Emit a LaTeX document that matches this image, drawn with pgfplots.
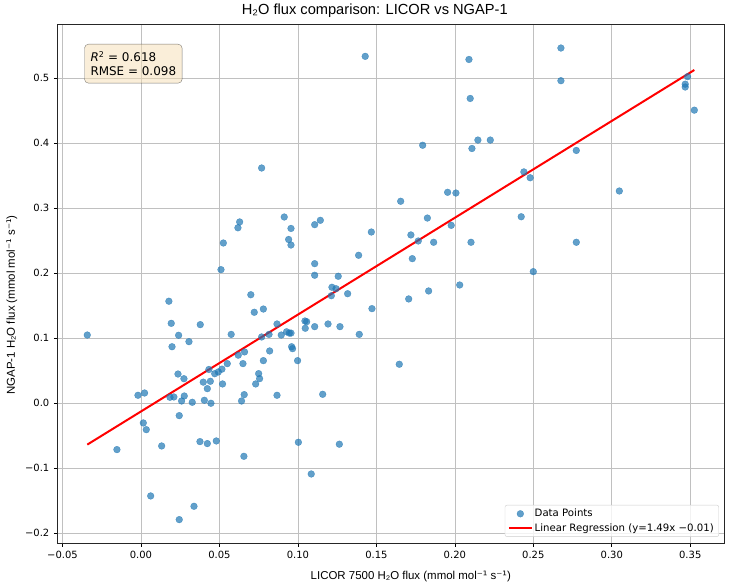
\documentclass[border=0pt]{standalone}
\usepackage{fontspec}
\setmainfont{DejaVu Sans}
\newfontfamily\arialfont{Liberation Sans}
\newfontfamily\djfont{DejaVu Sans}
\usepackage{pgfplots}
\pgfplotsset{compat=1.18}
\definecolor{mplblue}{HTML}{1F77B4}
\definecolor{gridgray}{HTML}{B0B0B0}
\definecolor{wheat}{HTML}{F5DEB3}
\definecolor{legframe}{HTML}{CCCCCC}
\newcommand{\inv}{{\djfont ⁻¹}}
\pgfplotsset{
  scatterleg/.style={legend image code/.code={\draw[##1] plot coordinates {(11.35bp,0bp)};}},
  lineleg/.style={legend image code/.code={\draw[##1] (0bp,0bp) -- (22.7bp,0bp);}},
}

\pgfplotstableread{
x y
-0.0342 0.105
0.0178 0.157
0.0193 0.123
0.0198 0.087
0.0240 0.1046
0.0306 0.0948
0.0378 0.121
0.0510 0.2056
0.0525 0.2466
0.0618 0.270
0.0629 0.279
0.0575 0.106
0.0700 0.167
0.0722 0.140
0.0780 0.145
0.0769 0.102
0.0816 0.106
0.0867 0.122
0.0894 0.105
0.0928 0.110
0.0945 0.108
0.0956 0.108
0.0913 0.2866
0.0956 0.269
0.0941 0.252
0.0956 0.2435
0.0550 0.061
0.0620 0.074
0.0660 0.079
0.0650 0.061
0.0780 0.0656
0.0820 0.0805
0.0750 0.0456
0.0756 0.0379
0.0731 0.0297
0.0516 0.0525
0.0493 0.0482
0.0470 0.0455
0.0433 0.052
0.0236 0.045
0.0274 0.0378
0.0397 0.0325
0.0442 0.0338
0.0423 0.0225
0.0520 0.0297
-0.0019 0.0123
0.0023 0.0158
0.0185 0.0092
0.0210 0.0097
0.0276 0.0112
0.0259 0.0035
0.0327 0.0015
0.0404 0.0046
0.0446 0.0000
0.0244 -0.019
0.0015 -0.0303
0.0034 -0.0406
-0.0153 -0.0713
0.0132 -0.0657
0.0376 -0.059
0.0423 -0.062
0.0480 -0.058
0.0656 -0.0816
0.0062 -0.1426
0.0338 -0.1585
0.0244 -0.179
0.0658 0.0133
0.0641 0.0035
0.0867 0.0123
0.1158 0.0138
0.1003 -0.060
0.1264 -0.063
0.1085 -0.1088
0.1655 0.3108
0.1107 0.2748
0.1143 0.2815
0.1468 0.2635
0.1825 0.285
0.1977 0.2738
0.1720 0.259
0.1767 0.2497
0.1865 0.2477
0.2103 0.2477
0.1729 0.2225
0.1387 0.2277
0.1107 0.2148
0.1107 0.197
0.1257 0.1954
0.1217 0.1785
0.1243 0.1763
0.1213 0.1655
0.1317 0.1686
0.2031 0.182
0.1833 0.1728
0.1706 0.1605
0.1472 0.1456
0.1045 0.1266
0.1056 0.1255
0.1047 0.1154
0.1107 0.1179
0.1192 0.122
0.1268 0.1179
0.1391 0.106
0.0960 0.087
0.0966 0.084
0.0998 0.0656
0.1646 0.060
0.1429 0.5338
0.2090 0.529
0.2098 0.469
0.2147 0.405
0.2226 0.405
0.2109 0.392
0.1795 0.397
0.0769 0.362
0.1954 0.3246
0.2007 0.3235
0.2676 0.5466
0.2676 0.4963
0.3468 0.491
0.3468 0.4866
0.3483 0.5025
0.3526 0.451
0.2774 0.389
0.2440 0.356
0.2480 0.347
0.3048 0.3266
0.2423 0.287
0.2774 0.2477
0.2500 0.2025
}\scatterdata

\begin{document}
\begin{tikzpicture}
\begin{axis}[
  at={(0,0)}, anchor=south west,
  scale only axis, width=667bp, height=518.3bp,
  xmin=-0.0533, xmax=0.3717, ymin=-0.215, ymax=0.5825,
  xtick={-0.05,0,0.05,0.10,0.15,0.20,0.25,0.30,0.35},
  xticklabels={−0.05,0.00,0.05,0.10,0.15,0.20,0.25,0.30,0.35},
  ytick={-0.2,-0.1,0,0.1,0.2,0.3,0.4,0.5},
  yticklabels={−0.2,−0.1,0.0,0.1,0.2,0.3,0.4,0.5},
  tick label style={font=\fontsize{10}{12}\selectfont},
  xticklabel style={yshift=-1bp},
  yticklabel style={xshift=-1bp},
  tick pos=left, tick align=outside, major tick length=3.5bp,
  tick style={black, line width=0.6bp},
  axis line style={line width=0.6bp, black!85},
  grid=major,
  major grid style={color=gridgray!80, line width=0.6bp},
  title={H₂O flux comparison: LICOR vs NGAP-1},
  title style={font=\arialfont\fontsize{14.7}{17}\selectfont, at={(rel axis cs:0.476,1)}, anchor=base, yshift=4bp},
  xlabel={LICOR 7500 H₂O flux (mmol mol\inv\ s\inv)},
  xlabel style={font=\arialfont\fontsize{11.5}{13}\selectfont, at={(rel axis cs:0.53,-0.065)}, anchor=center},
  ylabel={NGAP-1 H₂O flux (mmol mol\inv\ s\inv)},
  ylabel style={font=\arialfont\fontsize{11.5}{13}\selectfont, at={(rel axis cs:-0.068,0.459)}, anchor=center},
  legend style={at={(rel axis cs:0.992,0.012)}, anchor=south east,
    draw=legframe, rounded corners=2bp, fill=white, fill opacity=0.8, text opacity=1,
    font=\fontsize{10.2}{12}\selectfont, inner xsep=3bp, inner ysep=2bp, row sep=1bp},
  legend cell align=left,
]
\addplot[only marks, mark=*, mark size=3.4bp, color=mplblue,
  mark options={draw=mplblue, fill=mplblue, line width=0.3bp, opacity=0.7}, scatterleg]
  table[x=x, y=y] {\scatterdata};
\addlegendentry{Data Points}
\addplot[red, line width=2bp, lineleg]
  coordinates {(-0.0342,-0.0636) (0.3526,0.5128)};
\addlegendentry{Linear Regression (y=1.49x −0.01)}
\node[anchor=north west, fill=wheat, fill opacity=0.5, text opacity=1,
  draw=black, draw opacity=0.5, rounded corners=4bp, align=left,
  font=\fontsize{12}{14.6}\selectfont, inner xsep=6bp, inner ysep=7bp]
  at (rel axis cs:0.0405,0.9628) {\textit{R}\textsuperscript{2} = 0.618\\RMSE = 0.098};
\end{axis}
\pgfresetboundingbox
\useasboundingbox (-57.3bp,-41bp) rectangle (673.7bp,543bp);
\end{tikzpicture}
\end{document}
